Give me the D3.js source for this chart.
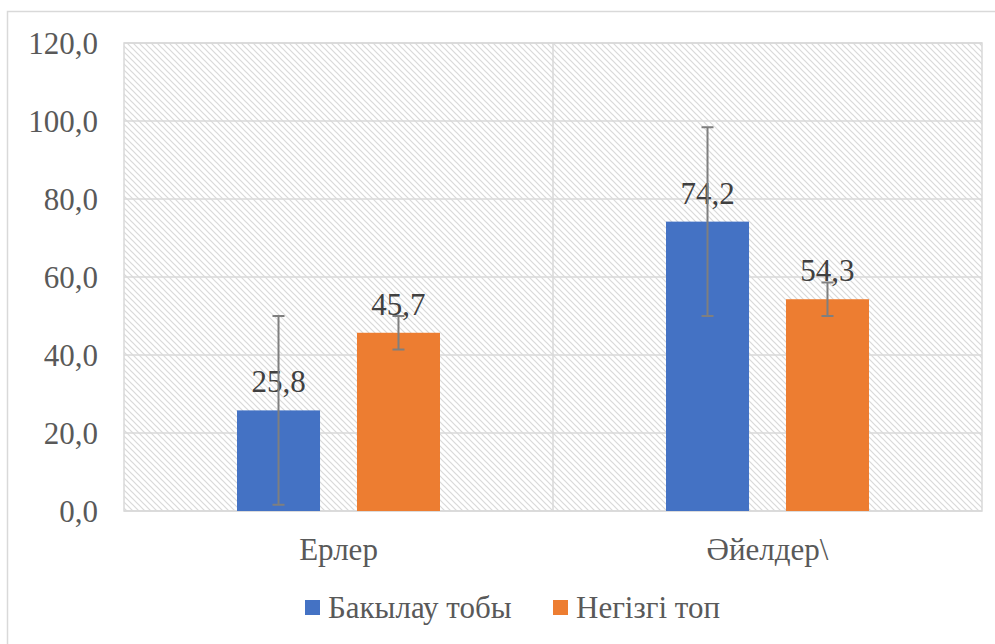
<!DOCTYPE html>
<html><head><meta charset="utf-8">
<script src="https://cdn.jsdelivr.net/npm/d3@7"></script>
<style>html,body{margin:0;padding:0;background:#fff;}svg{display:block;}
svg text{font-family:"Liberation Serif","Times New Roman","DejaVu Serif",serif;}</style>
</head><body>
<script>
const categories = ["Ерлер", "Әйелдер\\"];
const seriesNames = ["Бакылау тобы", "Негізгі топ"];
const controlValues = [25.8, 74.2];
const mainValues = [45.7, 54.3];
const controlErrors = [24.2, 24.2];
const mainErrors = [4.3, 4.3];
const yTicks = [0, 20, 40, 60, 80, 100, 120];
const colors = ["#4472C4", "#ED7D31"];

(function(){
const W = 995, H = 644, FS = 31;
const svg = d3.select("body").append("svg").attr("width", W).attr("height", H);
const defs = svg.append("defs");
const pat = defs.append("pattern").attr("id","hatch").attr("patternUnits","userSpaceOnUse")
  .attr("width",6).attr("height",6);
pat.append("rect").attr("width",6).attr("height",6).attr("fill","#fff");
pat.append("path").attr("d","M-1,-1 L7,7 M-1,5 L1,7 M5,-1 L7,1").attr("stroke","#d9d9d9").attr("stroke-width",1.2);

svg.append("rect").attr("x",7.5).attr("y",11.5).attr("width",W+10).attr("height",H+10)
  .attr("fill","none").attr("stroke","#d9d9d9").attr("stroke-width",1.5);

const pL = 124, pR = 982, pT = 43, pB = 511;
const x = d3.scaleBand().domain(categories).range([pL, pR]);
const y = d3.scaleLinear().domain([0, 120]).range([pB, pT]);
const xs = d3.scaleBand().domain(seriesNames).range([0, x.bandwidth()]).paddingInner(0.308).paddingOuter(0.942);

svg.append("rect").attr("x",pL).attr("y",pT).attr("width",pR-pL).attr("height",pB-pT)
  .attr("fill","url(#hatch)").attr("stroke","#d9d9d9").attr("stroke-width",1.5);

svg.append("g").selectAll("line").data(yTicks).join("line")
  .attr("x1",pL).attr("x2",pR).attr("y1",d=>y(d)).attr("y2",d=>y(d))
  .attr("stroke","#d9d9d9").attr("stroke-width",1.5);
svg.append("line").attr("x1",x(categories[1])).attr("x2",x(categories[1])).attr("y1",pT).attr("y2",pB)
  .attr("stroke","#d9d9d9").attr("stroke-width",1.5);

const yAxis = d3.axisLeft(y).tickValues(yTicks).tickFormat(d=>d3.format(".1f")(d).replace(".",",")).tickSize(0).tickPadding(26);
const ya = svg.append("g").attr("transform",`translate(${pL},0)`).call(yAxis);
ya.select(".domain").remove();
ya.attr("font-family",null).attr("font-size",null);
ya.selectAll("text").attr("font-size",FS).attr("fill","#595959").attr("dy","0.35em");

const xAxis = d3.axisBottom(x).tickSize(0).tickPadding(27);
const xa = svg.append("g").attr("transform",`translate(0,${pB})`).call(xAxis);
xa.select(".domain").remove();
xa.attr("font-family",null).attr("font-size",null);
xa.selectAll("text").attr("font-size",FS).attr("fill","#595959");

const series = [
  {name: seriesNames[0], values: controlValues, errors: controlErrors, color: colors[0]},
  {name: seriesNames[1], values: mainValues, errors: mainErrors, color: colors[1]}
];
const g = svg.append("g");
series.forEach(s => {
  categories.forEach((c, i) => {
    const bx = x(c) + xs(s.name), bw = xs.bandwidth(), v = s.values[i], e = s.errors[i];
    g.append("rect").attr("x",bx).attr("y",y(v)).attr("width",bw).attr("height",y(0)-y(v)).attr("fill",s.color);
    const cx = bx + bw/2;
    g.append("text").attr("x",cx).attr("y",y(v)-18).attr("text-anchor","middle")
      .attr("font-size",FS).attr("fill","#404040")
      .text(d3.format(".1f")(v).replace(".",","));
    const eg = g.append("g").attr("stroke","#7f7f7f").attr("stroke-width",2);
    eg.append("line").attr("x1",cx).attr("x2",cx).attr("y1",y(v+e)).attr("y2",y(v-e));
    eg.append("line").attr("x1",cx-6).attr("x2",cx+6).attr("y1",y(v+e)).attr("y2",y(v+e));
    eg.append("line").attr("x1",cx-6).attr("x2",cx+6).attr("y1",y(v-e)).attr("y2",y(v-e));
  });
});

const lg = svg.append("g");
const legendX = [305, 553];
series.forEach((s, i) => {
  lg.append("rect").attr("x",legendX[i]).attr("y",600).attr("width",15).attr("height",15).attr("fill",s.color);
  lg.append("text").attr("x",legendX[i]+23).attr("y",618)
    .attr("font-size",FS).attr("fill","#595959").text(s.name);
});
})();
</script>
</body></html>
